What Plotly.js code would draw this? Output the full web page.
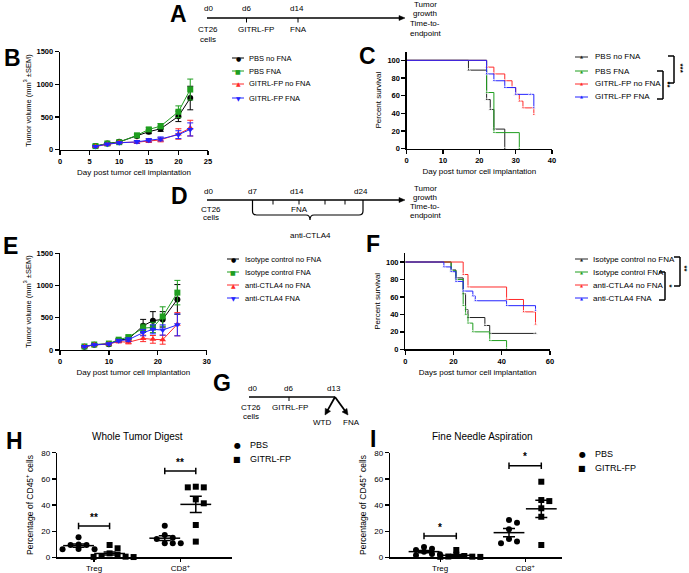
<!DOCTYPE html>
<html><head><meta charset="utf-8">
<script src="https://cdn.plot.ly/plotly-3.0.1.min.js"></script>
<style>html,body{margin:0;padding:0;background:#fff}</style>
</head><body><div id="chart" style="width:689px;height:573px"></div>
<script>
// ---------------- DATA ----------------
// Panel B: tumor growth (GITRL-FP study)
const daysB = [6, 8, 10, 13, 15, 17, 20, 22];
const pbsNoFnaB = [55, 95, 120, 210, 275, 320, 510, 790];
const pbsNoFnaB_sem = [15, 15, 20, 25, 30, 40, 80, 180];
const pbsFnaB = [55, 95, 115, 220, 310, 360, 580, 920];
const pbsFnaB_sem = [15, 15, 20, 25, 30, 40, 90, 160];
const gitrlNoFnaB = [50, 80, 110, 115, 135, 150, 240, 330];
const gitrlNoFnaB_sem = [10, 15, 15, 20, 25, 30, 80, 120];
const gitrlFnaB = [50, 85, 105, 120, 145, 165, 230, 310];
const gitrlFnaB_sem = [10, 15, 15, 20, 25, 30, 60, 100];
const seriesNamesB = ["PBS no FNA", "PBS FNA", "GITRL-FP no FNA", "GITRL-FP FNA"];

// Panel C: survival (GITRL-FP study)
const pbsNoFnaC_t = [0, 17, 22, 23, 24, 27];
const pbsNoFnaC_s = [100, 88.9, 55.6, 44.4, 22.2, 0];
const pbsFnaC_t = [0, 22, 24, 31];
const pbsFnaC_s = [100, 63.6, 18.2, 0];
const gitrlNoFnaC_t = [0, 22, 24, 27, 29, 30, 31, 32, 35];
const gitrlNoFnaC_s = [100, 92.3, 84.6, 76.9, 69.2, 61.5, 53.8, 46.2, 38.5];
const gitrlFnaC_t = [0, 22, 24, 27, 30, 34, 35];
const gitrlFnaC_s = [100, 84.6, 76.9, 69.2, 61.5, 61.5, 46.2];

// Panel E: tumor growth (anti-CTLA4 study)
const daysE = [5, 7, 10, 12, 14, 17, 19, 21, 24];
const isoNoFnaE = [50, 80, 90, 155, 170, 375, 455, 475, 785];
const isoNoFnaE_sem = [10, 10, 15, 20, 30, 100, 140, 120, 230];
const isoFnaE = [55, 85, 100, 160, 200, 340, 350, 520, 890];
const isoFnaE_sem = [10, 10, 15, 20, 30, 60, 80, 150, 190];
const ctlaNoFnaE = [55, 80, 95, 130, 120, 180, 165, 160, 400];
const ctlaNoFnaE_sem = [10, 10, 15, 20, 25, 50, 60, 70, 180];
const ctlaFnaE = [55, 80, 95, 145, 160, 270, 320, 310, 390];
const ctlaFnaE_sem = [10, 10, 15, 20, 30, 50, 70, 80, 170];
const seriesNamesE = ["Isotype control no FNA", "Isotype control FNA", "anti-CTLA4 no FNA", "anti-CTLA4 FNA"];

// Panel F: survival (anti-CTLA4 study)
const isoNoFnaF_t = [0, 19, 21, 24, 25, 26, 33, 35, 54];
const isoNoFnaF_s = [100, 90.9, 81.8, 63.6, 45.5, 36.4, 27.3, 18.2, 18.2];
const isoFnaF_t = [0, 19, 21, 24, 25, 26, 28, 35, 42];
const isoFnaF_s = [100, 90, 80, 50, 40, 30, 20, 10, 0];
const ctlaNoFnaF_t = [0, 24, 26, 42, 49, 54];
const ctlaNoFnaF_s = [100, 85.7, 71.4, 57.1, 42.9, 28.6];
const ctlaFnaF_t = [0, 16, 19, 21, 24, 28, 29, 42, 54];
const ctlaFnaF_s = [100, 94.4, 88.9, 77.8, 66.7, 61.1, 55.6, 50, 44.4];

// Panels H / I: % of CD45+ cells
const cellCategories = ["Treg", "CD8<sup>+</sup>"];
const groupNames = ["PBS", "GITRL-FP"];
const wtdTregPBS = [15.3, 9.8, 9.4, 9.4, 6.3, 6.1, 6.1];
const wtdTregGITRL = [9.4, 6.9, 3.0, 2.0, 1.0, 0.5, 0.3, 0.2];
const wtdCD8PBS = [24.2, 17.0, 15.0, 14.0, 10.7, 10.7, 10.7];
const wtdCD8GITRL = [54.0, 53.5, 53.5, 44.3, 41.3, 24.7, 12.0];
const fnaTregPBS = [7.8, 6.5, 5.5, 4.3, 2.5, 2.3, 1.5];
const fnaTregGITRL = [5.6, 2.0, 1.0, 0.6, 0.5, 0.4, 0.3];
const fnaCD8PBS = [28.5, 26.5, 21.4, 14.0, 12.0, 10.7];
const fnaCD8GITRL = [57.8, 43.8, 43.0, 37.5, 31.0, 9.4];

// ---------------- STYLE / HELPERS ----------------
const W = 689, H = 573;
const F = "Liberation Sans, Arial, sans-serif";
const FN = "Liberation Sans Narrow, Liberation Sans, Arial, sans-serif";
const BLK = "#000000", GRN = "#1f9e1f", RED = "#ff2a2a", BLU = "#2323ff", KMB = "#222222";
const X = p => p / W, Y = p => 1 - p / H;
const ann = [], shp = [];
function T(x, y, text, size, opt) {
  ann.push(Object.assign({xref: "paper", yref: "paper", x: X(x), y: Y(y), text: text, showarrow: false,
    font: {family: FN, size: size, color: "#000"}, xanchor: "center", yanchor: "middle"}, opt || {}));
}
function L(x0, y0, x1, y1, w, c) {
  shp.push({type: "line", xref: "paper", yref: "paper", x0: X(x0), y0: Y(y0), x1: X(x1), y1: Y(y1),
    line: {color: c || "#000", width: w || 1.2}});
}
function ARR(x0, y0, x1, y1, w, hl, hw) {
  const len = Math.hypot(x1 - x0, y1 - y0), ux = (x1 - x0) / len, uy = (y1 - y0) / len;
  const bx = x1 - ux * hl, by = y1 - uy * hl, px = -uy * hw / 2, py = ux * hw / 2;
  L(x0, y0, x1 - ux * hl * 0.6, y1 - uy * hl * 0.6, w);
  shp.push({type: "path", xref: "paper", yref: "paper", fillcolor: "#000", line: {color: "#000", width: 0.5},
    path: "M" + X(x1) + "," + Y(y1) + " L" + X(bx + px) + "," + Y(by + py) + " L" + X(bx - px) + "," + Y(by - py) + " Z"});
}
function axis(d0, d1, range, extra, isY) {
  const dom = isY ? [Y(d0), Y(d1)] : [X(d0), X(d1)];
  return Object.assign({domain: dom, range: range, showline: true, linecolor: "#000", linewidth: 1.3,
    ticks: "outside", ticklen: 4, tickwidth: 1.3, tickcolor: "#000", showgrid: false, zeroline: false,
    fixedrange: true, tickfont: {family: F, size: 7.5, color: "#000", weight: "bold"}}, extra || {});
}
function atitle(text, size, standoff) {
  return {text: text, font: {family: F, size: size || 8, color: "#000"}, standoff: standoff || 4};
}

const traces = [];
// growth curves
function growth(xs, ys, sem, color, symbol, xa, ya) {
  traces.push({type: "scatter", mode: "lines+markers", x: xs, y: ys, xaxis: xa, yaxis: ya,
    line: {color: color, width: 1}, marker: {color: color, symbol: symbol, size: 6},
    error_y: {type: "data", array: sem, visible: true, color: color, thickness: 1, width: 3},
    cliponaxis: false, showlegend: false, hoverinfo: "skip"});
}
growth(daysB, pbsNoFnaB, pbsNoFnaB_sem, BLK, "circle", "x", "y");
growth(daysB, pbsFnaB, pbsFnaB_sem, GRN, "square", "x", "y");
growth(daysB, gitrlNoFnaB, gitrlNoFnaB_sem, RED, "triangle-up", "x", "y");
growth(daysB, gitrlFnaB, gitrlFnaB_sem, BLU, "triangle-down", "x", "y");
growth(daysE, isoNoFnaE, isoNoFnaE_sem, BLK, "circle", "x3", "y3");
growth(daysE, isoFnaE, isoFnaE_sem, GRN, "square", "x3", "y3");
growth(daysE, ctlaNoFnaE, ctlaNoFnaE_sem, RED, "triangle-up", "x3", "y3");
growth(daysE, ctlaFnaE, ctlaFnaE_sem, BLU, "triangle-down", "x3", "y3");

// Kaplan-Meier curves
function km(t, s, color, xa, ya) {
  traces.push({type: "scatter", mode: "lines+markers", x: t, y: s, xaxis: xa, yaxis: ya,
    line: {color: color, width: 1, shape: "hv"},
    marker: {color: color, symbol: "triangle-up", size: t.map((v, i) => i === 0 ? 0 : 3.5)},
    cliponaxis: false, showlegend: false, hoverinfo: "skip"});
}
km(pbsNoFnaC_t, pbsNoFnaC_s, KMB, "x2", "y2");
km(pbsFnaC_t, pbsFnaC_s, GRN, "x2", "y2");
km(gitrlNoFnaC_t, gitrlNoFnaC_s, RED, "x2", "y2");
km(gitrlFnaC_t, gitrlFnaC_s, BLU, "x2", "y2");
km(isoNoFnaF_t, isoNoFnaF_s, KMB, "x4", "y4");
km(isoFnaF_t, isoFnaF_s, GRN, "x4", "y4");
km(ctlaNoFnaF_t, ctlaNoFnaF_s, RED, "x4", "y4");
km(ctlaFnaF_t, ctlaFnaF_s, BLU, "x4", "y4");

// Scatter dot plots with mean +/- SEM
function swarmOffsets(vals, pxPerY) {
  const placed = [], off = new Array(vals.length);
  const order = vals.map((v, i) => i).sort((a, b) => vals[b] - vals[a]);
  const cands = [0]; for (let k = 1; k < 8; k++) cands.push(k * 8, -k * 8);
  for (const i of order) {
    for (const c of cands) {
      const hit = placed.some(p => Math.abs(p.x - c) < 7 && Math.abs(p.y - vals[i]) * pxPerY < 4.5);
      if (!hit) { off[i] = c; placed.push({x: c, y: vals[i]}); break; }
    }
  }
  return off;
}
function dotGroup(vals, center, symbol, xa, ya, pxPerX, pxPerY) {
  const off = swarmOffsets(vals, pxPerY);
  traces.push({type: "scatter", mode: "markers", x: off.map(o => center + o / pxPerX), y: vals,
    xaxis: xa, yaxis: ya, marker: {color: "#000", symbol: symbol, size: 6},
    cliponaxis: false, showlegend: false, hoverinfo: "skip"});
  const n = vals.length, m = vals.reduce((a, b) => a + b, 0) / n;
  const sd = Math.sqrt(vals.reduce((a, b) => a + (b - m) * (b - m), 0) / (n - 1));
  traces.push({type: "scatter", mode: "markers", x: [center], y: [m], xaxis: xa, yaxis: ya,
    marker: {symbol: "line-ew", size: 22, color: "#000", line: {color: "#000", width: 1.5}},
    error_y: {type: "data", array: [sd / Math.sqrt(n)], visible: true, color: "#000", thickness: 1.5, width: 6},
    cliponaxis: false, showlegend: false, hoverinfo: "skip"});
}
const hPxX = (232 - 57) / (2.6 - 0.57), iPxX = (561.7 - 390) / (2.43 - 0.41), pxY = (557.3 - 452.7) / 80;
const offH = 0.18, offI = 0.19;
dotGroup(wtdTregPBS, 1 - offH, "circle", "x5", "y5", hPxX, pxY);
dotGroup(wtdTregGITRL, 1 + offH, "square", "x5", "y5", hPxX, pxY);
dotGroup(wtdCD8PBS, 2 - offH, "circle", "x5", "y5", hPxX, pxY);
dotGroup(wtdCD8GITRL, 2 + offH, "square", "x5", "y5", hPxX, pxY);
dotGroup(fnaTregPBS, 1 - offI, "circle", "x6", "y6", iPxX, pxY);
dotGroup(fnaTregGITRL, 1 + offI, "square", "x6", "y6", iPxX, pxY);
dotGroup(fnaCD8PBS, 2 - offI, "circle", "x6", "y6", iPxX, pxY);
dotGroup(fnaCD8GITRL, 2 + offI, "square", "x6", "y6", iPxX, pxY);

// significance brackets (data coords)
function sigBracket(xa, ya, x0, x1, yv, stars) {
  shp.push({type: "line", xref: xa, yref: ya, x0: x0, x1: x1, y0: yv, y1: yv, line: {color: "#000", width: 1.5}});
  shp.push({type: "line", xref: xa, yref: ya, x0: x0, x1: x0, y0: yv - 2.5, y1: yv + 2.5, line: {color: "#000", width: 1.5}});
  shp.push({type: "line", xref: xa, yref: ya, x0: x1, x1: x1, y0: yv - 2.5, y1: yv + 2.5, line: {color: "#000", width: 1.5}});
  ann.push({xref: xa, yref: ya, x: (x0 + x1) / 2, y: yv + 1, text: stars, showarrow: false, yanchor: "bottom",
    font: {family: F, size: 10, color: "#000", weight: "bold"}});
}
sigBracket("x5", "y5", 1 - offH, 1 + offH, 24, "**");
sigBracket("x5", "y5", 2 - offH, 2 + offH, 66, "**");
sigBracket("x6", "y6", 1 - offI, 1 + offI, 16.3, "*");
sigBracket("x6", "y6", 2 - offI, 2 + offI, 70, "*");

// ---------------- TIMELINES ----------------
const LET = {family: F, size: 23, color: "#000", weight: "bold"};
// A
T(178, 14, "A", 23, {font: LET});
T(208, 9, "d0", 8); T(246, 9, "d6", 8); T(297, 9, "d14", 8);
ARR(207, 18, 405, 18, 1.3, 6, 5);
L(246.5, 18, 246.5, 22.5, 1); L(298, 18, 298, 22.5, 1);
T(208, 29.5, "CT26", 8); T(208, 39.5, "cells", 8); T(256, 29.5, "GITRL-FP", 8); T(298, 29.5, "FNA", 8);
T(425, 4.5, "Tumor", 8); T(425, 14, "growth", 8); T(425, 23.5, "Time-to-", 8); T(425, 33, "endpoint", 8);
// D
T(179, 196, "D", 23, {font: LET});
T(208, 191.5, "d0", 8); T(252, 191.5, "d7", 8); T(297, 191.5, "d14", 8); T(361, 191.5, "d24", 8);
ARR(207, 200, 405, 200, 1.3, 6, 5);
[273, 299, 325, 345].forEach(x => L(x, 200, x, 204.5, 1));
shp.push({type: "path", xref: "paper", yref: "paper", line: {color: "#000", width: 1.2},
  path: "M" + X(252.5) + "," + Y(200) + " L" + X(252.5) + "," + Y(211) + " Q" + X(252.5) + "," + Y(215) + " " + X(256.5) + "," + Y(215) +
    " L" + X(306) + "," + Y(215) + " Q" + X(310) + "," + Y(215) + " " + X(310) + "," + Y(220) +
    " Q" + X(310) + "," + Y(215) + " " + X(314) + "," + Y(215) + " L" + X(359) + "," + Y(215) +
    " Q" + X(363) + "," + Y(215) + " " + X(363) + "," + Y(211) + " L" + X(363) + "," + Y(200)});
T(211, 209, "CT26", 8); T(211, 218, "cells", 8); T(299, 209, "FNA", 8); T(310, 235, "anti-CTLA4", 8);
T(425, 188.5, "Tumor", 8); T(425, 197.5, "growth", 8); T(425, 206.5, "Time-to-", 8); T(425, 215.5, "endpoint", 8);
// G
T(222, 383, "G", 23, {font: LET});
T(252, 388, "d0", 8); T(288, 388, "d6", 8); T(334, 388, "d13", 8);
L(249, 397, 335, 397, 1.3); L(289, 397, 289, 401, 1);
T(251, 407, "CT26", 8); T(251, 416, "cells", 8); T(290, 407, "GITRL-FP", 8);
ARR(335, 397, 325, 415, 1.8, 6, 6); ARR(335, 397, 348, 415, 1.8, 6, 6);
T(322, 422, "WTD", 8); T(351, 422, "FNA", 8);

// ---------------- PANEL LETTERS / TITLES ----------------
T(12, 58, "B", 23, {font: LET});
T(367, 56, "C", 23, {font: LET});
T(10, 245.5, "E", 23, {font: LET});
T(373, 243.5, "F", 23, {font: LET});
T(14, 441, "H", 23, {font: LET});
T(373, 439, "I", 23, {font: LET});
T(137, 436, "Whole Tumor Digest", 10, {font: {family: F, size: 10, color: "#000"}});
T(482, 436, "Fine Needle Aspiration", 10, {font: {family: F, size: 10, color: "#000"}});

// ---------------- CUSTOM LEGENDS ----------------
const glyph = {"circle": "●", "square": "■", "triangle-up": "▲", "triangle-down": "▼"};
function legendRow(xl0, xl1, xt, y, color, g, gsize, label, tsize) {
  L(xl0, y, xl1, y, 1, color);
  T((xl0 + xl1) / 2, y, g, gsize, {font: {family: "DejaVu Sans", size: gsize, color: color}});
  T(xt, y, label, tsize, {xanchor: "left", font: {family: F, size: tsize, color: "#000"}});
}
const colsB = [BLK, GRN, RED, BLU], symsB = ["circle", "square", "triangle-up", "triangle-down"];
[58, 71, 84, 98].forEach((y, i) => legendRow(232, 244, 247, y, colsB[i], glyph[symsB[i]], 6, seriesNamesB[i], 7.5));
[259, 272, 285, 298].forEach((y, i) => legendRow(227, 239, 243, y, colsB[i], glyph[symsB[i]], 6, seriesNamesE[i], 7.5));
const colsKM = [KMB, GRN, RED, BLU];
[57, 71, 84, 97].forEach((y, i) => legendRow(575, 588, 593, y, colsKM[i], "▲", 4, seriesNamesB[i], 8));
[259, 272, 285, 298].forEach((y, i) => legendRow(575, 588, 591, y, colsKM[i], "▲", 4, seriesNamesE[i], 8));
// survival legend brackets
function vBracket(x, y0, y1, stars, tx, ty, ts) {
  L(x - 6, y0, x, y0, 1.5); L(x, y0, x, y1, 1.5); L(x - 6, y1, x, y1, 1.5);
  T(tx, ty, stars, ts, {textangle: 90, font: {family: F, size: ts, color: "#000", weight: "bold"}});
}
vBracket(674, 56, 83, "***", 679.5, 68, 8);
vBracket(663, 71, 99, "**", 667.5, 85, 8);
vBracket(680, 257, 286, "**", 684.5, 268, 7.5);
vBracket(665, 272, 300, "*", 669.5, 286, 7.5);
// dot plot legends
[445, 459].forEach((y, i) => { T(237, y, i ? "■" : "●", 8, {font: {family: "DejaVu Sans", size: 8, color: "#000"}});
  T(248, y, groupNames[i], 9, {xanchor: "left", font: {family: F, size: 9, color: "#000"}}); });
[454, 468].forEach((y, i) => { T(582, y, i ? "■" : "●", 8, {font: {family: "DejaVu Sans", size: 8, color: "#000"}});
  T(593, y, groupNames[i], 9, {xanchor: "left", font: {family: F, size: 9, color: "#000"}}); });

// ---------------- LAYOUT ----------------
const catAxisExtra = {tickvals: [1, 2], ticktext: cellCategories, ticklen: 3, tickfont: {family: F, size: 8, color: "#000"}};
const layout = {
  width: W, height: H, margin: {l: 0, r: 0, t: 0, b: 0}, paper_bgcolor: "#fff", plot_bgcolor: "rgba(0,0,0,0)",
  showlegend: false, font: {family: F, color: "#000"},
  xaxis: axis(60, 208, [0, 25], {anchor: "y", dtick: 5, title: atitle("Day post tumor cell implantation", 8)}),
  yaxis: axis(149.7, 51.6, [0, 1500], {anchor: "x", dtick: 500, title: atitle("Tumor volume (mm<sup>3</sup> ±SEM)", 7.5)}, true),
  xaxis2: axis(406.7, 552, [0, 40], {anchor: "y2", dtick: 10, title: atitle("Day post tumor cell implantation", 8)}),
  yaxis2: axis(148.7, 51.5, [0, 110], {anchor: "x2", tickvals: [0, 20, 40, 60, 80, 100], title: atitle("Percent survival", 8)}, true),
  xaxis3: axis(60, 206.7, [0, 30], {anchor: "y3", dtick: 10, title: atitle("Day post tumor cell implantation", 8)}),
  yaxis3: axis(350, 253.3, [0, 1500], {anchor: "x3", dtick: 500, title: atitle("Tumor volume (mm<sup>3</sup> ±SEM)", 7.5)}, true),
  xaxis4: axis(405.3, 550, [0, 60], {anchor: "y4", dtick: 20, title: atitle("Days post tumor cell implantation", 8)}),
  yaxis4: axis(349.3, 253.3, [0, 110], {anchor: "x4", tickvals: [0, 20, 40, 60, 80, 100], title: atitle("Percent survival", 8)}, true),
  xaxis5: axis(57, 232, [0.57, 2.6], Object.assign({anchor: "y5"}, catAxisExtra)),
  yaxis5: axis(557.3, 452.7, [0, 80], {anchor: "x5", dtick: 20, tickfont: {family: F, size: 8, color: "#000"},
    title: atitle("Percentage of CD45<sup>+</sup> cells", 8.5, 6)}, true),
  xaxis6: axis(390, 561.7, [0.41, 2.43], Object.assign({anchor: "y6"}, catAxisExtra)),
  yaxis6: axis(557.3, 452.7, [0, 80], {anchor: "x6", dtick: 20, tickfont: {family: F, size: 8, color: "#000"},
    title: atitle("Percentage of CD45<sup>+</sup> cells", 8.5, 6)}, true),
  annotations: ann, shapes: shp
};
Plotly.newPlot("chart", traces, layout, {staticPlot: true, displayModeBar: false});
</script></body></html>
